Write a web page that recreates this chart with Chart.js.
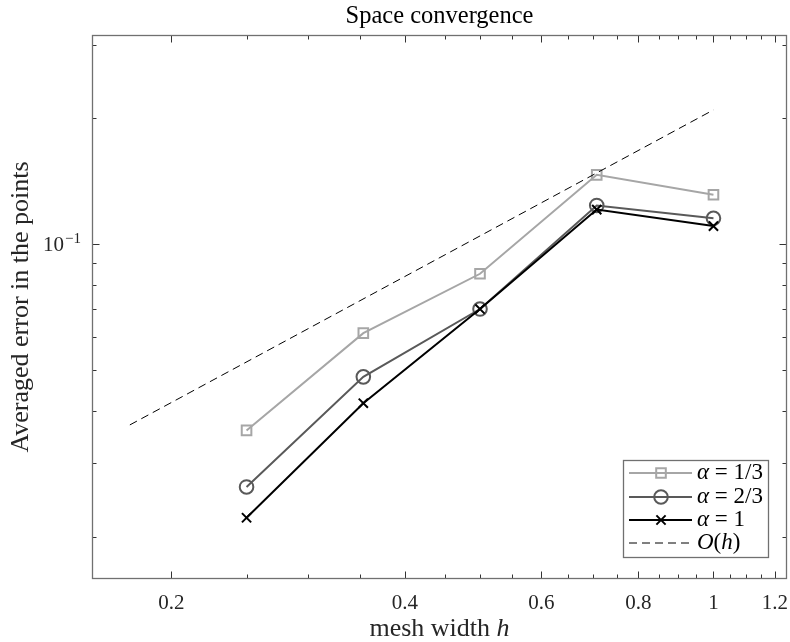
<!DOCTYPE html>
<html><head><meta charset="utf-8">
<script src="https://cdn.jsdelivr.net/npm/chart.js@4/dist/chart.umd.min.js"></script>
<style>html,body{margin:0;padding:0;background:#fff}#wrap{width:790px;height:642px}</style>
</head><body><div id="wrap"><canvas id="c" width="790" height="642"></canvas></div>
<script>
// ---- data ----
const meshWidths = [0.25, 0.3536, 0.5, 0.7071, 1.0];
const errAlpha13 = [0.0359, 0.0613, 0.0850, 0.1465, 0.1313];
const errAlpha23 = [0.0263, 0.0482, 0.0700, 0.1238, 0.1153];
const errAlpha1  = [0.0222, 0.0417, 0.0700, 0.1210, 0.1105];
const refH       = [0.1768, 1.0];
const refOrder1  = [0.0370, 0.2094];
const seriesLabels = ['α = 1/3', 'α = 2/3', 'α = 1', 'O(h)'];
const xTickValues = [0.2, 0.4, 0.6, 0.8, 1, 1.2];
const xTickLabels = ['0.2', '0.4', '0.6', '0.8', '1', '1.2'];
const xMinorTicks = [0.25, 0.3, 0.35, 0.45, 0.5, 0.55, 0.65, 0.7, 0.75, 0.85, 0.9, 0.95, 1.05, 1.1, 1.15];
const yMajorTicks = [0.1];
const yMajorBase = ['10'];
const yMajorExp = ['−1'];
const yMinorTicks = [0.02, 0.03, 0.04, 0.05, 0.06, 0.07, 0.08, 0.09, 0.2, 0.3];
const titleText = 'Space convergence';
const xTitleText = 'mesh width ';
const xTitleVar = 'h';
const yTitleText = 'Averaged error in the points';

const SERIF = '"Liberation Serif", "DejaVu Serif", serif';
const pts = (xs, ys) => xs.map((v, i) => ({x: v, y: ys[i]}));

const datasets = [
  {label: seriesLabels[0], data: pts(meshWidths, errAlpha13), borderColor: '#a6a6a6', borderWidth: 2,
   pointStyle: 'rect', pointRadius: 6.8, pointBorderWidth: 2, pointBackgroundColor: 'rgba(0,0,0,0)', order: 3},
  {label: seriesLabels[1], data: pts(meshWidths, errAlpha23), borderColor: '#595959', borderWidth: 2,
   pointStyle: 'circle', pointRadius: 6.8, pointBorderWidth: 2, pointBackgroundColor: 'rgba(0,0,0,0)', order: 2},
  {label: seriesLabels[2], data: pts(meshWidths, errAlpha1), borderColor: '#000000', borderWidth: 2,
   pointStyle: 'crossRot', pointRadius: 6.5, pointBorderWidth: 2, pointBackgroundColor: 'rgba(0,0,0,0)', order: 0},
  {label: seriesLabels[3], data: pts(refH, refOrder1), borderColor: '#000000', borderWidth: 1,
   borderDash: [8, 5], pointRadius: 0, order: 1}
];
datasets.forEach(d => { d.tension = 0; d.fill = false; d.pointBorderColor = d.borderColor; });

function drawRich(ctx, x, y, segs, size, align) {
  const w = segs.map(s => { ctx.font = (s.i ? 'italic ' : '') + size + 'px ' + SERIF; return ctx.measureText(s.t).width; });
  const total = w.reduce((a, b) => a + b, 0);
  let cx = align === 'center' ? x - total / 2 : x;
  segs.forEach((s, k) => { ctx.font = (s.i ? 'italic ' : '') + size + 'px ' + SERIF; ctx.fillText(s.t, cx, y); cx += w[k]; });
}
function splitMath(str) {
  const segs = [];
  for (const ch of str) {
    const it = /[A-Za-zα-ω]/.test(ch);
    if (segs.length && segs[segs.length - 1].i === it) segs[segs.length - 1].t += ch;
    else segs.push({t: ch, i: it});
  }
  return segs;
}

const axesPlugin = {
  id: 'matlabAxes',
  afterDatasetsDraw(chart) {
    const {ctx, chartArea: a, scales: {x, y}} = chart;
    ctx.save();
    ctx.strokeStyle = '#333';
    ctx.lineWidth = 1;
    const L = Math.round(a.left) + 0.5, R = Math.round(a.right) - 0.5;
    const T = Math.round(a.top) + 0.5, B = Math.round(a.bottom) - 0.5;
    ctx.beginPath();
    const xt = (v, len) => { const p = Math.round(x.getPixelForValue(v)) + 0.5;
      ctx.moveTo(p, B); ctx.lineTo(p, B - len); ctx.moveTo(p, T); ctx.lineTo(p, T + len); };
    const yt = (v, len) => { const p = Math.round(y.getPixelForValue(v)) + 0.5;
      ctx.moveTo(L, p); ctx.lineTo(L + len, p); ctx.moveTo(R, p); ctx.lineTo(R - len, p); };
    xTickValues.forEach(v => xt(v, 7));
    xMinorTicks.forEach(v => xt(v, 4));
    yMajorTicks.forEach(v => yt(v, 7));
    yMinorTicks.forEach(v => yt(v, 4));
    ctx.stroke();
    // box
    ctx.strokeStyle = '#707070';
    ctx.lineWidth = 1.3;
    ctx.strokeRect(L, T, R - L, B - T);

    // tick labels
    ctx.fillStyle = '#262626';
    ctx.textBaseline = 'middle';
    ctx.textAlign = 'center';
    ctx.font = '21px ' + SERIF;
    xTickValues.forEach((v, i) => ctx.fillText(xTickLabels[i], x.getPixelForValue(v), 603));
    ctx.textAlign = 'left';
    ctx.textBaseline = 'alphabetic';
    yMajorTicks.forEach((v, i) => {
      const p = y.getPixelForValue(v);
      ctx.font = '21px ' + SERIF;
      const wb = ctx.measureText(yMajorBase[i]).width;
      const x0 = 43;
      ctx.fillText(yMajorBase[i], x0, p + 7);
      ctx.font = '15px ' + SERIF;
      ctx.fillText(yMajorExp[i], x0 + wb + 1, p - 1);
    });

    // axis titles
    ctx.fillStyle = '#262626';
    ctx.textBaseline = 'middle';
    drawRich(ctx, (a.left + a.right) / 2, 629, [{t: xTitleText, i: false}, {t: xTitleVar, i: true}], 26, 'center');
    ctx.save();
    ctx.translate(21, (a.top + a.bottom) / 2);
    ctx.rotate(-Math.PI / 2);
    ctx.textAlign = 'center';
    ctx.font = '26px ' + SERIF;
    ctx.fillText(yTitleText, 0, 0);
    ctx.restore();

    // legend
    const bx = 623.5, by = 460.5, bw = 145, bh = 97;
    ctx.fillStyle = '#fff';
    ctx.fillRect(bx, by, bw, bh);
    ctx.strokeStyle = '#707070';
    ctx.lineWidth = 1.3;
    ctx.strokeRect(bx, by, bw, bh);
    const rows = [473, 497, 520, 543];
    chart.data.datasets.forEach((d, i) => {
      const ry = rows[i];
      ctx.save();
      ctx.strokeStyle = d.borderColor;
      ctx.lineWidth = d.borderWidth;
      ctx.setLineDash(d.borderDash || []);
      ctx.beginPath(); ctx.moveTo(629, ry); ctx.lineTo(692, ry); ctx.stroke();
      ctx.setLineDash([]);
      if (d.pointRadius > 0) {
        ctx.lineWidth = d.pointBorderWidth;
        ctx.fillStyle = 'rgba(0,0,0,0)';
        Chart.helpers.drawPoint(ctx, {pointStyle: d.pointStyle, rotation: 0, radius: d.pointRadius,
          borderWidth: d.pointBorderWidth}, 661, ry);
      }
      ctx.restore();
      ctx.fillStyle = '#000';
      ctx.textBaseline = 'middle';
      ctx.textAlign = 'left';
      drawRich(ctx, 697, ry, splitMath(d.label), 23, 'left');
    });
    ctx.restore();
  }
};

new Chart(document.getElementById('c'), {
  type: 'line',
  data: {datasets},
  options: {
    responsive: false,
    animation: false,
    devicePixelRatio: 1,
    layout: {autoPadding: false, padding: {left: 0, right: 3, top: 0, bottom: 0}},
    plugins: {
      legend: {display: false},
      tooltip: {enabled: false},
      title: {display: true, text: titleText, color: '#000', fullSize: false,
              font: {family: SERIF, size: 24.5, weight: 'normal', lineHeight: 1.2},
              padding: {top: 2, bottom: 3.6}}
    },
    scales: {
      x: {type: 'logarithmic', min: 0.158, max: 1.244,
          grid: {display: false}, border: {display: false}, ticks: {display: false},
          afterFit: s => { s.height = 63; }},
      y: {type: 'logarithmic', min: Math.pow(10, -1.8), max: Math.pow(10, -0.5),
          grid: {display: false}, border: {display: false}, ticks: {display: false},
          afterFit: s => { s.width = 92; }}
    }
  },
  plugins: [axesPlugin]
});
</script></body></html>
